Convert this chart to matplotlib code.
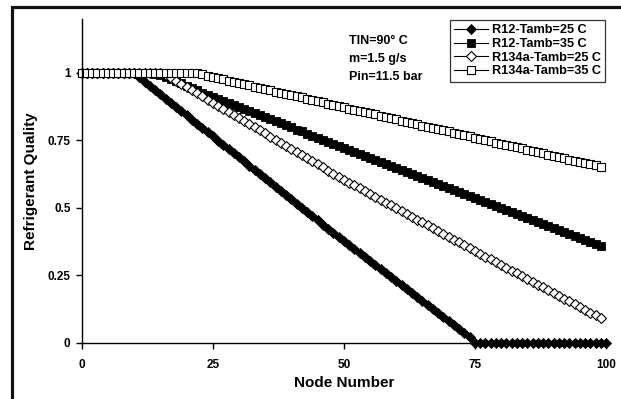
# coding=utf-8

import numpy as np
import matplotlib
matplotlib.use('Agg')
import matplotlib.pyplot as plt
from matplotlib.patches import Rectangle


plt.rcParams['font.family'] = ['Liberation Sans', 'DejaVu Sans']
plt.rcParams['font.weight'] = 'bold'

# node numbers
nodes_long = np.arange(0, 101)
nodes_short = np.arange(0, 100)

# R12, Tamb = 25 C  (nodes 0..100)
r12_25 = [
    1.0, 1.0, 1.0, 1.0, 1.0, 1.0, 1.0, 1.0, 1.0, 1.0,
    1.0, 0.984, 0.968, 0.952, 0.936, 0.921, 0.905, 0.889, 0.874, 0.858,
    0.843, 0.827, 0.812, 0.796, 0.781, 0.765, 0.749, 0.734, 0.718, 0.703,
    0.687, 0.672, 0.656, 0.640, 0.625, 0.609, 0.594, 0.578, 0.563, 0.547,
    0.532, 0.516, 0.500, 0.485, 0.469, 0.454, 0.438, 0.423, 0.407, 0.392,
    0.376, 0.361, 0.346, 0.331, 0.317, 0.302, 0.287, 0.272, 0.257, 0.242,
    0.228, 0.213, 0.198, 0.183, 0.168, 0.153, 0.139, 0.124, 0.109, 0.094,
    0.079, 0.064, 0.050, 0.035, 0.020, 0.0, 0.0, 0.0, 0.0, 0.0,
    0.0, 0.0, 0.0, 0.0, 0.0, 0.0, 0.0, 0.0, 0.0, 0.0,
    0.0, 0.0, 0.0, 0.0, 0.0, 0.0, 0.0, 0.0, 0.0, 0.0,
    0.0,
]

# R12, Tamb = 35 C  (nodes 0..99)
r12_35 = [
    1.0, 1.0, 1.0, 1.0, 1.0, 1.0, 1.0, 1.0, 1.0, 1.0,
    1.0, 1.0, 1.0, 1.0, 0.997, 0.991, 0.984, 0.977, 0.969, 0.961,
    0.953, 0.946, 0.935, 0.927, 0.920, 0.912, 0.904, 0.897, 0.889, 0.882,
    0.874, 0.866, 0.859, 0.851, 0.844, 0.836, 0.828, 0.821, 0.813, 0.806,
    0.798, 0.790, 0.783, 0.775, 0.768, 0.760, 0.752, 0.745, 0.737, 0.730,
    0.722, 0.715, 0.707, 0.700, 0.692, 0.685, 0.678, 0.670, 0.663, 0.655,
    0.648, 0.641, 0.633, 0.626, 0.618, 0.611, 0.604, 0.596, 0.589, 0.581,
    0.574, 0.567, 0.559, 0.552, 0.544, 0.537, 0.530, 0.522, 0.515, 0.507,
    0.500, 0.493, 0.485, 0.478, 0.470, 0.463, 0.456, 0.448, 0.441, 0.433,
    0.426, 0.419, 0.411, 0.404, 0.396, 0.389, 0.382, 0.374, 0.367, 0.359,
]

# R134a, Tamb = 25 C  (nodes 0..99)
r134a_25 = [
    1.0, 1.0, 1.0, 1.0, 1.0, 1.0, 1.0, 1.0, 1.0, 1.0,
    1.0, 1.0, 1.0, 1.0, 1.0, 1.0, 0.993, 0.982, 0.970, 0.959,
    0.947, 0.936, 0.924, 0.913, 0.901, 0.890, 0.879, 0.867, 0.856, 0.844,
    0.833, 0.821, 0.810, 0.799, 0.787, 0.776, 0.764, 0.753, 0.741, 0.730,
    0.718, 0.707, 0.696, 0.684, 0.673, 0.661, 0.650, 0.638, 0.627, 0.615,
    0.604, 0.593, 0.583, 0.572, 0.562, 0.551, 0.541, 0.530, 0.519, 0.509,
    0.498, 0.488, 0.477, 0.467, 0.456, 0.446, 0.435, 0.424, 0.414, 0.403,
    0.393, 0.382, 0.372, 0.361, 0.351, 0.340, 0.330, 0.319, 0.309, 0.298,
    0.288, 0.278, 0.267, 0.257, 0.246, 0.236, 0.226, 0.215, 0.205, 0.194,
    0.184, 0.174, 0.163, 0.153, 0.142, 0.132, 0.122, 0.111, 0.101, 0.090,
]

# R134a, Tamb = 35 C  (nodes 0..99)
r134a_35 = [
    1.0, 1.0, 1.0, 1.0, 1.0, 1.0, 1.0, 1.0, 1.0, 1.0,
    1.0, 1.0, 1.0, 1.0, 1.0, 1.0, 1.0, 1.0, 1.0, 1.0,
    1.0, 1.0, 0.998, 0.995, 0.990, 0.985, 0.981, 0.976, 0.972, 0.967,
    0.963, 0.958, 0.954, 0.949, 0.945, 0.940, 0.936, 0.931, 0.927, 0.922,
    0.918, 0.913, 0.909, 0.904, 0.900, 0.895, 0.891, 0.886, 0.882, 0.877,
    0.873, 0.868, 0.864, 0.859, 0.855, 0.850, 0.846, 0.841, 0.837, 0.832,
    0.828, 0.823, 0.819, 0.814, 0.810, 0.805, 0.801, 0.796, 0.792, 0.787,
    0.783, 0.778, 0.774, 0.769, 0.765, 0.760, 0.756, 0.751, 0.747, 0.742,
    0.738, 0.733, 0.729, 0.724, 0.720, 0.715, 0.711, 0.706, 0.702, 0.697,
    0.693, 0.688, 0.684, 0.679, 0.675, 0.670, 0.666, 0.661, 0.657, 0.652,
]

x_ticks = [0, 25, 50, 75, 100]
y_ticks = [0, 0.25, 0.5, 0.75, 1]
y_tick_labels = ['0', '0.25', '0.5', '0.75', '1']

W, H = 621, 399


def px_box(left, top, right, bottom):
    # pixel box -> figure fraction [l, b, w, h]
    return [left / W, 1 - bottom / H, (right - left) / W, (bottom - top) / H]


fig = plt.figure(figsize=(W / 100, H / 100), dpi=100)
fig.patch.set_facecolor('white')

# outer frame (only the top and left edges are in view)
fig.patches.append(Rectangle((11.5 / W, -0.1), 1.2, 1 - 7.5 / H + 0.1,
                             transform=fig.transFigure, fill=False,
                             edgecolor='#111111', linewidth=2.3))

ax = fig.add_axes(px_box(81.7, 19, 606, 342.7))
ax.set_xlim(0, 100)
ax.set_ylim(0, 1.2)
ax.spines['top'].set_visible(False)
ax.spines['right'].set_visible(False)
for s in ['left', 'bottom']:
    ax.spines[s].set_linewidth(1.0)

ax.set_xticks(x_ticks)
ax.set_yticks(y_ticks)
ax.set_yticklabels(y_tick_labels)
ax.tick_params(axis='both', direction='out', length=4, width=1,
               labelsize=8.5)
ax.tick_params(axis='x', pad=8)
ax.tick_params(axis='y', pad=4)

ax.set_xlabel('Node Number', fontsize=11, fontweight='bold')
ax.set_ylabel('Refrigerant Quality', fontsize=11, fontweight='bold')
ax.xaxis.set_label_coords(0.5, -(382.7 - 342.7) / 323.7, transform=ax.transAxes)
ax.yaxis.set_label_coords((31 - 81.7) / 524.3, 0.5, transform=ax.transAxes)
ax.xaxis.label.set_va('center')
ax.yaxis.label.set_va('center')

line_kw = dict(color='black', linewidth=0.8, clip_on=False)
ax.plot(nodes_long, r12_25, marker='D', markersize=5.0, markerfacecolor='black',
        markeredgecolor='black', markeredgewidth=0.6,
        label='R12-Tamb=25 C', **line_kw)
ax.plot(nodes_short, r12_35, marker='s', markersize=5.8, markerfacecolor='black',
        markeredgecolor='black', markeredgewidth=0.6,
        label='R12-Tamb=35 C', **line_kw)
ax.plot(nodes_short, r134a_25, marker='D', markersize=4.6, markerfacecolor='white',
        markeredgecolor='black', markeredgewidth=0.8,
        label='R134a-Tamb=25 C', **line_kw)
ax.plot(nodes_short, r134a_35, marker='s', markersize=5.8, markerfacecolor='white',
        markeredgecolor='black', markeredgewidth=0.8,
        label='R134a-Tamb=35 C', **line_kw)

leg = ax.legend(loc='upper right', bbox_to_anchor=(605 / W, 1 - 20 / H),
                bbox_transform=fig.transFigure, fontsize=9.2, frameon=True,
                fancybox=False, borderaxespad=0, handlelength=2.6,
                handletextpad=0.3, labelspacing=0.12, borderpad=0.35)
leg.get_frame().set_edgecolor('black')
leg.get_frame().set_linewidth(0.9)
for t in leg.get_texts():
    t.set_fontweight('bold')

fig.text(349 / W, 1 - 35.5 / H, 'TIN=90° C\nm=1.5 g/s\nPin=11.5 bar',
         ha='left', va='top', fontsize=9, fontweight='bold', linespacing=1.65)

fig.savefig('out.png', dpi=100, facecolor='white')
